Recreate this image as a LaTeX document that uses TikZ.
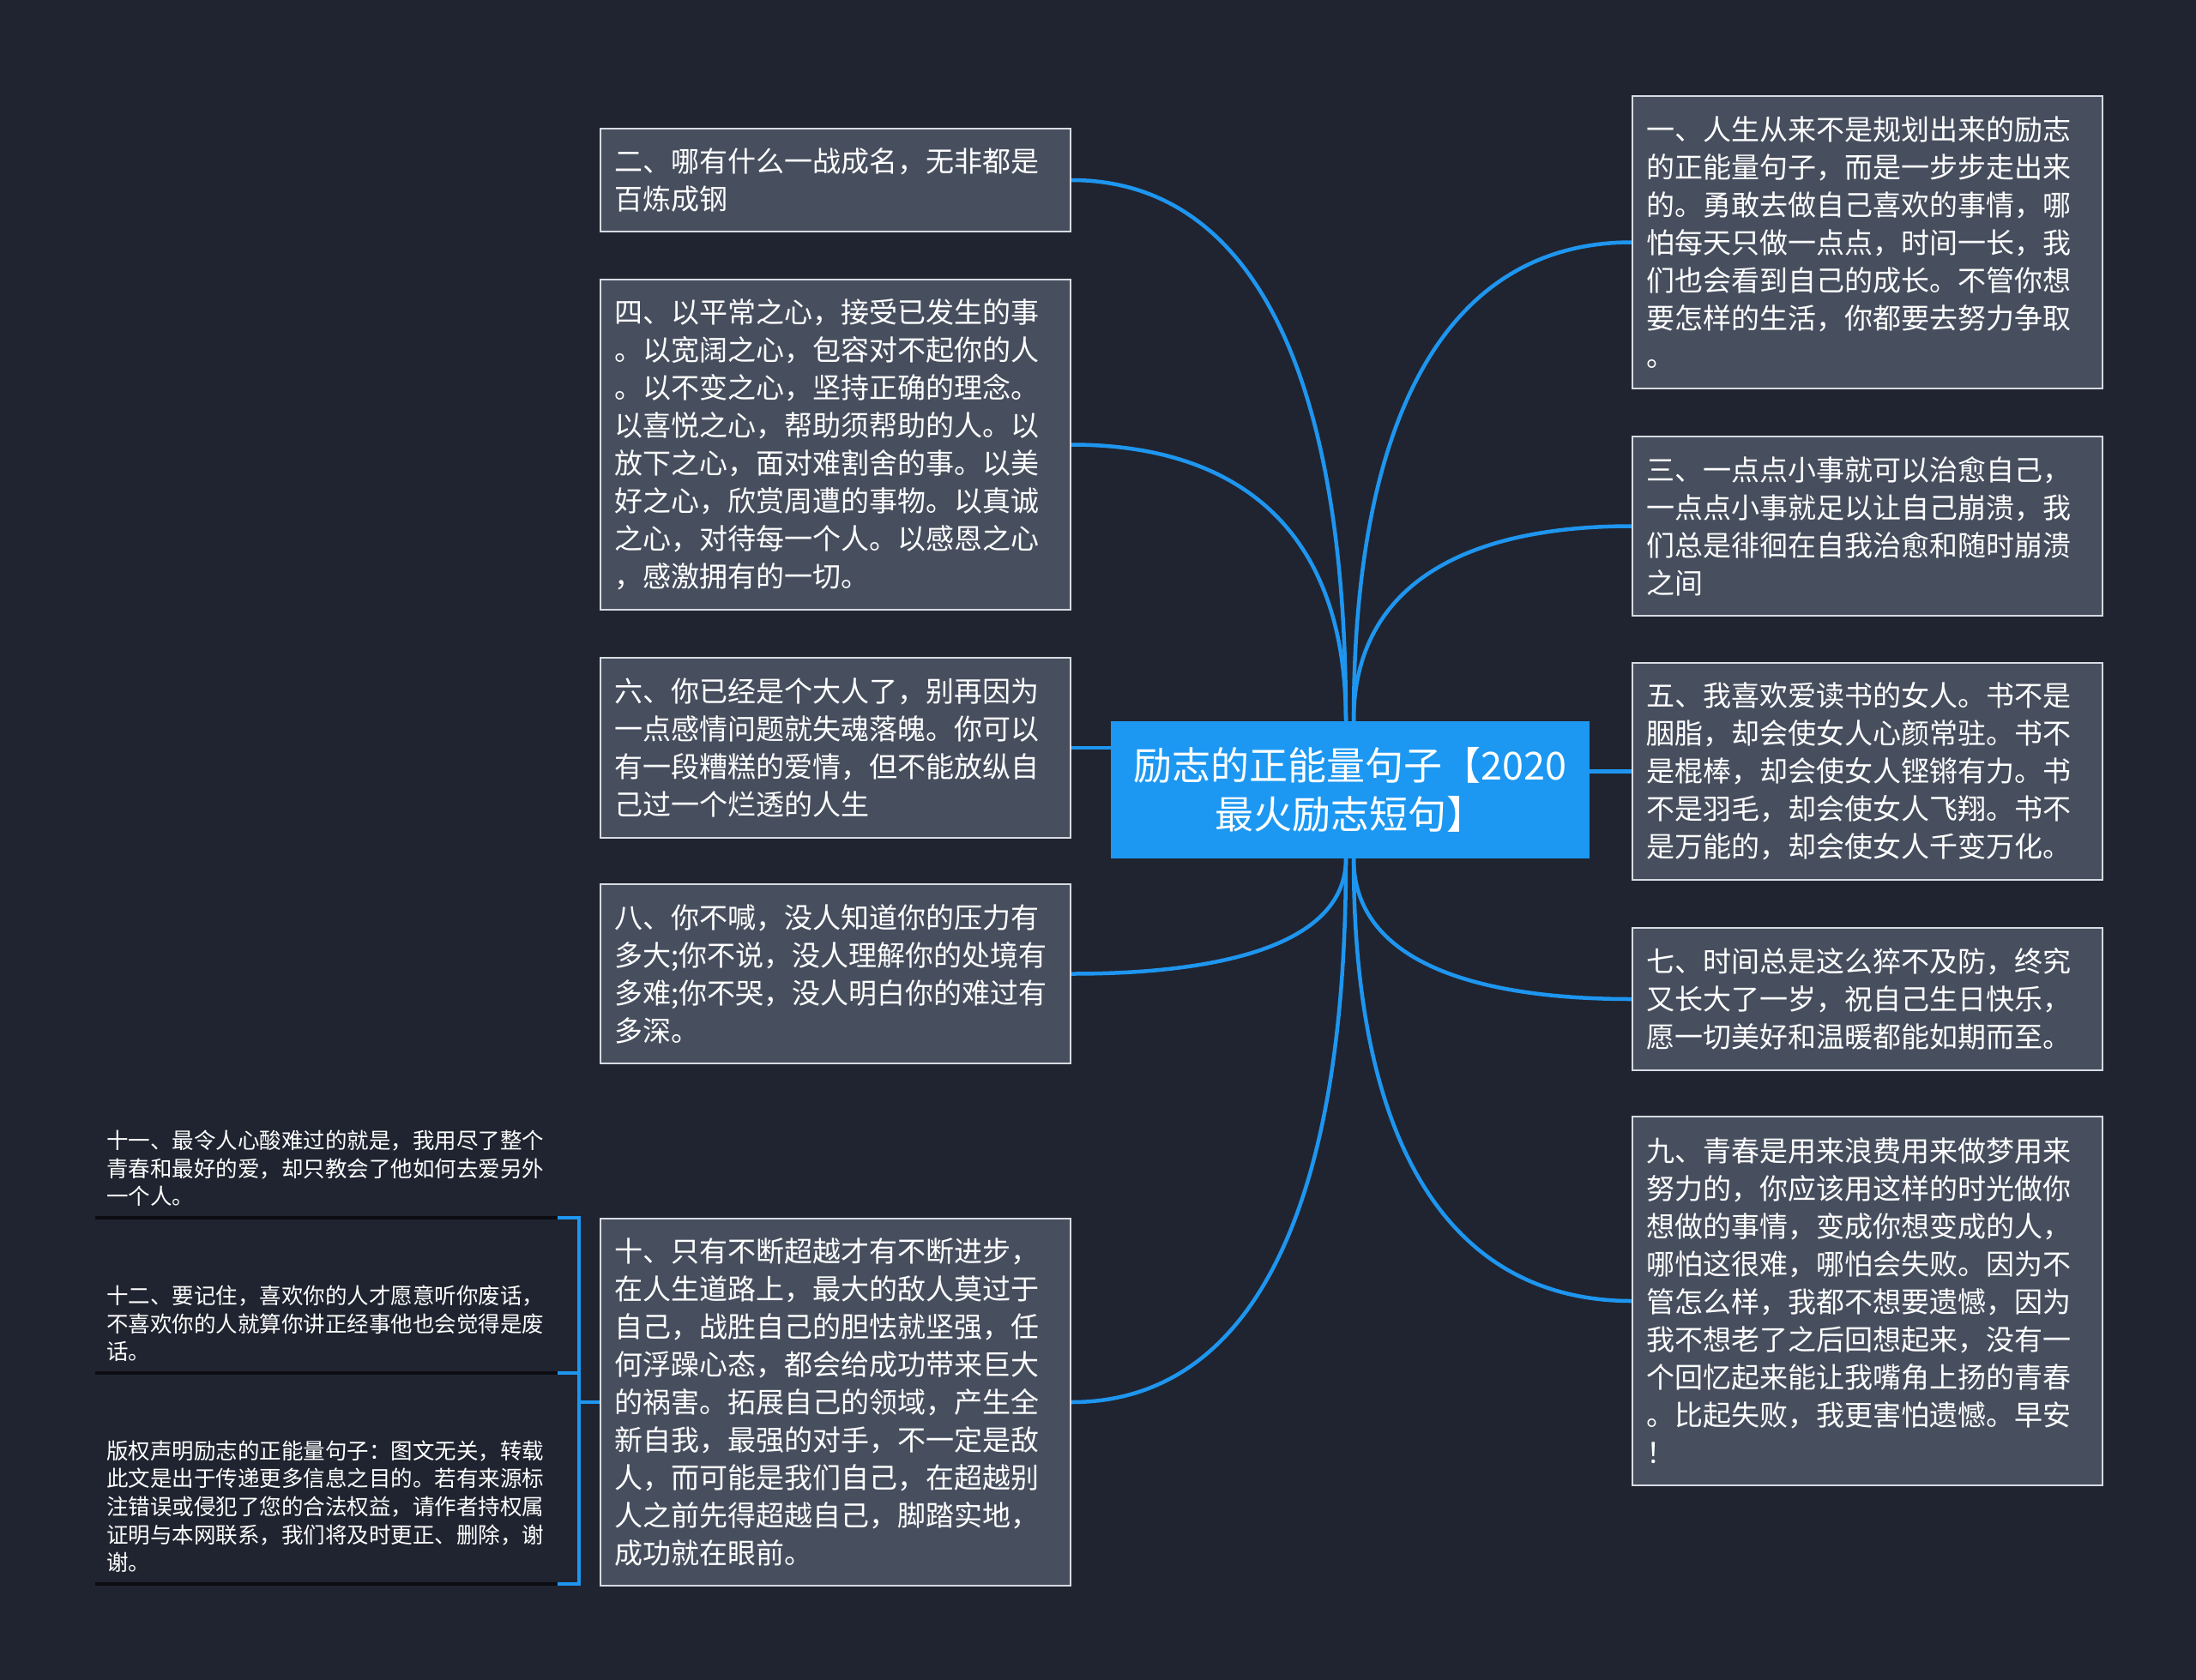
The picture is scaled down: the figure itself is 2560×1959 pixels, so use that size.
\documentclass[tikz,border=0pt]{standalone}
\usepackage{fontspec}
\setmainfont{Noto Sans CJK SC}
\usetikzlibrary{calc}
\definecolor{bg}{RGB}{32,36,48}
\definecolor{boxfill}{RGB}{71,79,95}
\definecolor{boxline}{RGB}{215,219,226}
\definecolor{linkblue}{RGB}{30,150,240}
\definecolor{centerblue}{RGB}{28,152,242}
\definecolor{ulinec}{RGB}{12,13,18}
\tikzset{
  tbox/.style={draw=boxline, line width=2pt, fill=boxfill, text=white,
    font=\fontsize{33}{44}\selectfont, text width=516pt, align=left,
    inner xsep=16pt, inner ysep=0pt, anchor=north west, minimum height=#1},
  note/.style={text=white, font=\fontsize{25.5}{32.7}\selectfont, text width=513pt,
    align=left, inner xsep=13pt, inner ysep=13pt, anchor=south west},
  link/.style={draw=linkblue, line width=4.5pt},
  bracket/.style={draw=linkblue, line width=4pt},
  uline/.style={draw=ulinec, line width=4pt},
  topic/.style={fill=centerblue, text=white, font=\fontsize{45}{57}\selectfont,
    align=center, minimum width=558pt, minimum height=160pt, inner sep=0pt}
}
\newcommand\mmlink[2]{\draw[link] (#1) .. controls ($(#1)!0.7!(#1|-#2)$) and ($(#2)!0.6!(#1|-#2)$) .. (#2);}
\begin{document}
\begin{tikzpicture}[x=1pt,y=-1pt]
\fill[bg] (0,0) rectangle (2560,1959);
\useasboundingbox (0,0) rectangle (2560,1959);

% centre
\node[topic] (c) at (1574,921) {励志的正能量句子【2020\\最火励志短句】};

% left column
\node[tbox=120] (L2) at (699,149) {二、哪有什么一战成名，无非都是\\百炼成钢};
\node[tbox=385] (L4) at (699,325) {四、以平常之心，接受已发生的事\\。以宽阔之心，包容对不起你的人\\。以不变之心，坚持正确的理念。\\以喜悦之心，帮助须帮助的人。以\\放下之心，面对难割舍的事。以美\\好之心，欣赏周遭的事物。以真诚\\之心，对待每一个人。以感恩之心\\，感激拥有的一切。};
\node[tbox=210] (L6) at (699,766) {六、你已经是个大人了，别再因为\\一点感情问题就失魂落魄。你可以\\有一段糟糕的爱情，但不能放纵自\\己过一个烂透的人生};
\node[tbox=209] (L8) at (699,1030) {八、你不喊，没人知道你的压力有\\多大;你不说，没人理解你的处境有\\多难;你不哭，没人明白你的难过有\\多深。};
\node[tbox=428] (L10) at (699,1420) {十、只有不断超越才有不断进步，\\在人生道路上，最大的敌人莫过于\\自己，战胜自己的胆怯就坚强，任\\何浮躁心态，都会给成功带来巨大\\的祸害。拓展自己的领域，产生全\\新自我，最强的对手，不一定是敌\\人，而可能是我们自己，在超越别\\人之前先得超越自己，脚踏实地，\\成功就在眼前。};

% right column
\node[tbox=341] (R1) at (1902,111) {一、人生从来不是规划出来的励志\\的正能量句子，而是一步步走出来\\的。勇敢去做自己喜欢的事情，哪\\怕每天只做一点点，时间一长，我\\们也会看到自己的成长。不管你想\\要怎样的生活，你都要去努力争取\\。};
\node[tbox=209] (R3) at (1902,508) {三、一点点小事就可以治愈自己，\\一点点小事就足以让自己崩溃，我\\们总是徘徊在自我治愈和随时崩溃\\之间};
\node[tbox=253] (R5) at (1902,772) {五、我喜欢爱读书的女人。书不是\\胭脂，却会使女人心颜常驻。书不\\是棍棒，却会使女人铿锵有力。书\\不是羽毛，却会使女人飞翔。书不\\是万能的，却会使女人千变万化。};
\node[tbox=166] (R7) at (1902,1081) {七、时间总是这么猝不及防，终究\\又长大了一岁，祝自己生日快乐，\\愿一切美好和温暖都能如期而至。};
\node[tbox=430] (R9) at (1902,1301) {九、青春是用来浪费用来做梦用来\\努力的，你应该用这样的时光做你\\想做的事情，变成你想变成的人，\\哪怕这很难，哪怕会失败。因为不\\管怎么样，我都不想要遗憾，因为\\我不想老了之后回想起来，没有一\\个回忆起来能让我嘴角上扬的青春\\。比起失败，我更害怕遗憾。早安\\！};

% notes attached to L10
\node[note] (n11) at (111,1420) {十一、最令人心酸难过的就是，我用尽了整个\\青春和最好的爱，却只教会了他如何去爱另外\\一个人。};
\node[note] (n12) at (111,1601) {十二、要记住，喜欢你的人才愿意听你废话，\\不喜欢你的人就算你讲正经事他也会觉得是废\\话。};
\node[note] (nc) at (111,1847) {版权声明励志的正能量句子：图文无关，转载\\此文是出于传递更多信息之目的。若有来源标\\注错误或侵犯了您的合法权益，请作者持权属\\证明与本网联系，我们将及时更正、删除，谢\\谢。};
\draw[uline] (n11.south west) -- (n11.south east);
\draw[uline] (n12.south west) -- (n12.south east);
\draw[uline] (nc.south west) -- (nc.south east);

% hubs
\coordinate (hubTL) at ([xshift=-5pt]c.north);
\coordinate (hubTR) at ([xshift=4pt]c.north);
\coordinate (hubBL) at ([xshift=-5pt]c.south);
\coordinate (hubBR) at ([xshift=4pt]c.south);
\coordinate (bx) at (675,0);

% connectors
\mmlink{hubTL}{L2.east}
\mmlink{hubTL}{L4.east}
\draw[link] (L6.east) -- (L6.east -| c.west);
\mmlink{hubBL}{L8.east}
\mmlink{hubBL}{L10.east}
\mmlink{hubTR}{R1.west}
\mmlink{hubTR}{R3.west}
\draw[link] (R5.west) -- (R5.west -| c.east);
\mmlink{hubBR}{R7.west}
\mmlink{hubBR}{R9.west}

% bracket
\draw[bracket] (n11.south east) -- (n11.south east -| bx) -- (nc.south east -| bx) -- (nc.south east);
\draw[bracket] (n12.south east) -- (n12.south east -| bx);
\draw[bracket] (bx |- L10.west) -- (L10.west);
\end{tikzpicture}
\end{document}
